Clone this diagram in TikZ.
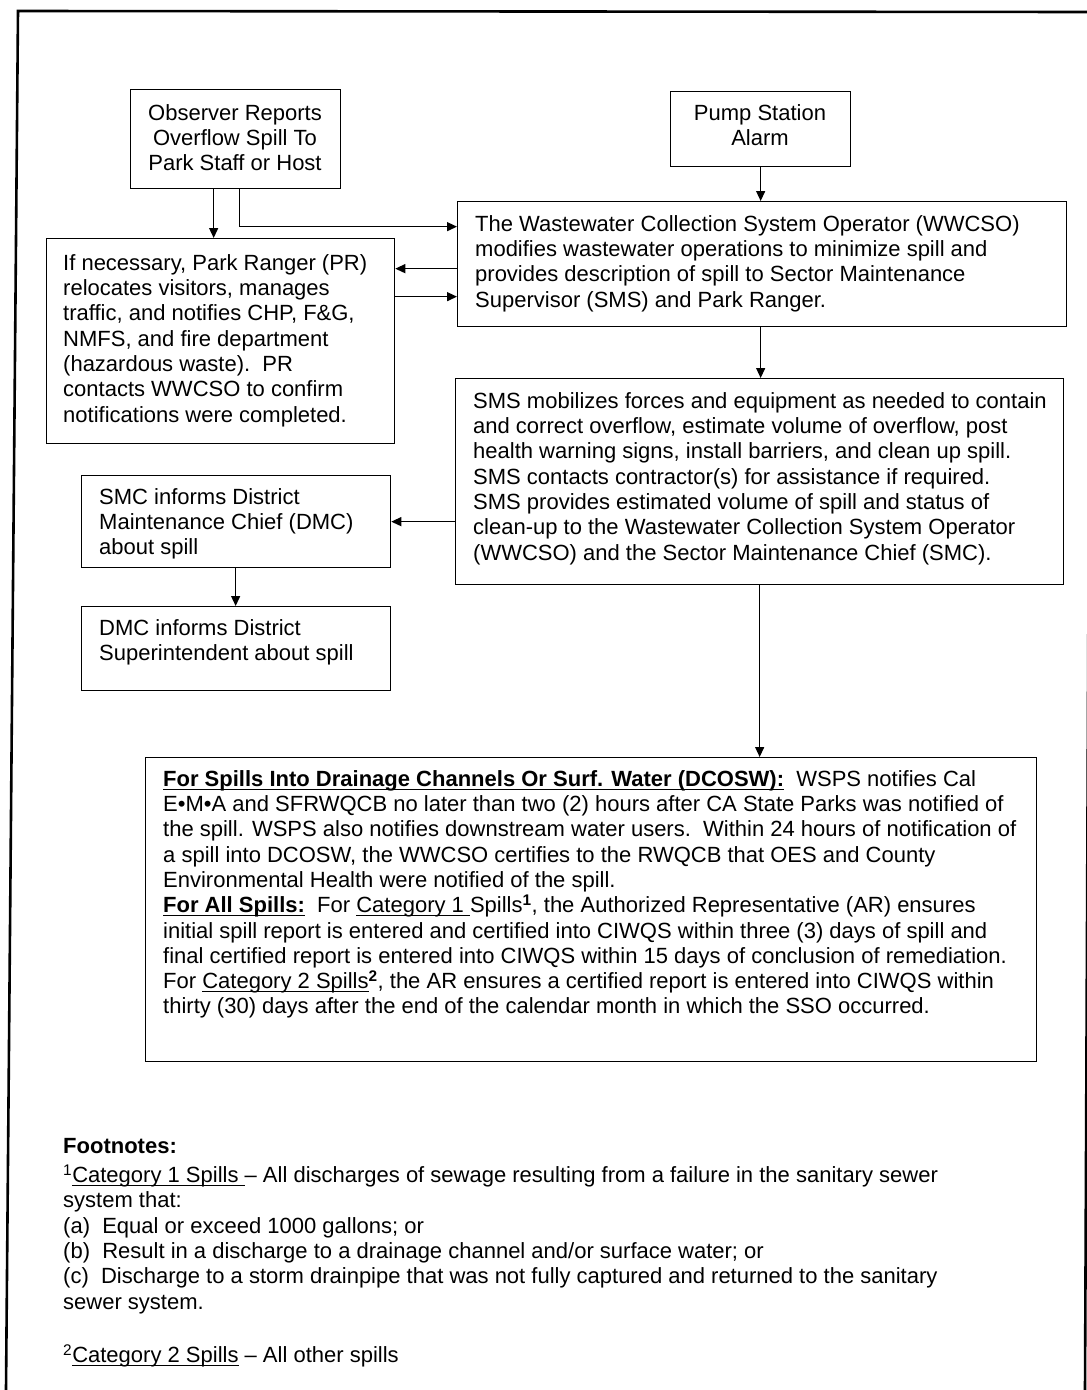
\documentclass[tikz,border=0pt]{standalone}
\usepackage{fontspec}
\setmainfont{Liberation Sans}
\usetikzlibrary{arrows.meta,calc}
\newcommand{\myul}[1]{\setbox0\hbox{#1}\rlap{\rule[-3.5pt]{\wd0}{1.2pt}}\box0\relax}
\begin{document}
\begin{tikzpicture}[x=1pt,y=-1pt,
  box/.style={draw, line width=1.3pt, inner sep=0pt, anchor=north west},
  txt/.style={inner sep=0pt, anchor=north west, align=left, font=\fontsize{22}{25.3}\selectfont},
  ctxt/.style={inner sep=0pt, anchor=north, align=center, font=\fontsize{22}{25.3}\selectfont},
  arr/.style={line width=1.3pt, -{Triangle[length=10pt,width=9pt]}},
  frame/.style={line width=2.6pt}]
\useasboundingbox (0,0) rectangle (1087,1390);
\fill[white] (0,0) rectangle (1087,1390);
% page frame (slightly skewed as in the scan)
\begin{scope}
  \clip (0,0) rectangle (1087,1390);
  \draw[frame] (6,1390) -- (18,11) -- (1095,12);
  \draw[frame] (1091,11) -- (1085,1390);
\end{scope}

% boxes
\node[box, minimum width=210pt, minimum height=99pt]  (obs)  at (130,89)  {};
\node[box, minimum width=180pt, minimum height=75pt]  (pump) at (670,91)  {};
\node[box, minimum width=609pt, minimum height=125pt] (ww)   at (457,201) {};
\node[box, minimum width=348pt, minimum height=205pt] (pr)   at (46,238)  {};
\node[box, minimum width=608pt, minimum height=206pt] (sms)  at (455,378) {};
\node[box, minimum width=309pt, minimum height=92pt]  (smc)  at (81,475)  {};
\node[box, minimum width=309pt, minimum height=84pt]  (dmc)  at (81,606)  {};
\node[box, minimum width=891pt, minimum height=304pt] (bot)  at (145,757) {};

% texts
\node[ctxt] (obs-t) at (235,102.3) {\strut Observer Reports\\Overflow Spill To\\Park Staff or Host};
\node[ctxt] (pump-t) at (760,102.3) {\strut Pump Station\\Alarm};
\node[txt] (ww-t) at (475,213.3) {\strut The Wastewater Collection System Operator (WWCSO)\\
modifies wastewater operations to minimize spill and\\
provides description of spill to Sector Maintenance\\
Supervisor (SMS) and Park Ranger.};
\node[txt] (pr-t) at (63,252.3) {\strut If necessary, Park Ranger (PR)\\
relocates visitors, manages\\
traffic, and notifies CHP, F\&G,\\
NMFS, and fire department\\
(hazardous waste).\ \ PR\\
contacts WWCSO to confirm\\
notifications were completed.};
\node[txt] (sms-t) at (473,390.3) {\strut SMS mobilizes forces and equipment as needed to contain\\
and correct overflow, estimate volume of overflow, post\\
health warning signs, install barriers, and clean up spill.\\
SMS contacts contractor(s) for assistance if required.\\
SMS provides estimated volume of spill and status of\\
clean-up to the Wastewater Collection System Operator\\
(WWCSO) and the Sector Maintenance Chief (SMC).};
\node[txt] (smc-t) at (99,486.3) {\strut SMC informs District\\
Maintenance Chief (DMC)\\
about spill};
\node[txt] (dmc-t) at (99,617.3) {\strut DMC informs District\\
Superintendent about spill};
\node[txt] (bot-t) at (163,768.3) {\strut\myul{\textbf{For Spills Into Drainage Channels Or Surf. Water (DCOSW):}}\ \ WSPS notifies Cal\\
E•M•A and SFRWQCB no later than two (2) hours after CA State Parks was notified of\\
the spill. WSPS also notifies downstream water users.\ \ Within 24 hours of notification of\\
a spill into DCOSW, the WWCSO certifies to the RWQCB that OES and County\\
Environmental Health were notified of the spill.\\
\myul{\textbf{For All Spills:}}\ \ For \myul{Category 1 }Spills\textsuperscript{\textbf{1}}, the Authorized Representative (AR) ensures\\
initial spill report is entered and certified into CIWQS within three (3) days of spill and\\
final certified report is entered into CIWQS within 15 days of conclusion of remediation.\\
For \myul{Category 2 Spills}\textsuperscript{\textbf{2}}, the AR ensures a certified report is entered into CIWQS within\\
thirty (30) days after the end of the calendar month in which the SSO occurred.};

% footnotes
\node[txt] (fn-h) at (63,1135.3) {\strut\textbf{Footnotes:}};
\node[txt] (fn-1) at (63,1164.3) {\strut\textsuperscript{1}\myul{Category 1 Spills }-- All discharges of sewage resulting from a failure in the sanitary sewer\\
system that:\\
(a)\ \ Equal or exceed 1000 gallons; or\\
(b)\ \ Result in a discharge to a drainage channel and/or surface water; or\\
(c)\ \ Discharge to a storm drainpipe that was not fully captured and returned to the sanitary\\
sewer system.};
\node[txt] (fn-2) at (63,1344.3) {\strut\textsuperscript{2}\myul{Category 2 Spills} -- All other spills};

% connectors
\draw[arr] ([xshift=-22pt]obs.south) -- ([xshift=-22pt]obs.south |- pr.north);
\draw[arr] ([xshift=4pt]obs.south) |- ([yshift=37.5pt]ww.west);
\draw[arr] ([yshift=-4.5pt]ww.west) -- ([yshift=-4.5pt]ww.west -| pr.east);
\draw[arr] ([yshift=-32.5pt]ww.west -| pr.east) -- ([yshift=-32.5pt]ww.west);
\draw[arr] (pump.south) -- (pump.south |- ww.north);
\draw[arr] (pump.south |- ww.south) -- (pump.south |- sms.north);
\draw[arr] ([yshift=-40pt]sms.west) -- ([yshift=-40pt]sms.west -| smc.east);
\draw[arr] ([xshift=-0.5pt]smc.south) -- ([xshift=-0.5pt]smc.south |- dmc.north);
\draw[arr] (sms.south) -- (sms.south |- bot.north);
\end{tikzpicture}
\end{document}
